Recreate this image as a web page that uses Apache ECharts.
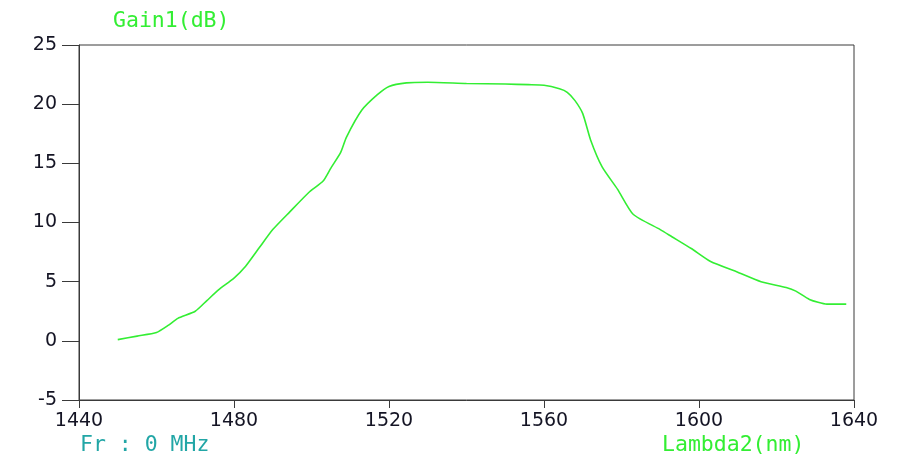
<!DOCTYPE html>
<html>
<head>
<meta charset="utf-8">
<script src="https://cdn.jsdelivr.net/npm/echarts@6/dist/echarts.min.js"></script>
<style>
  html, body { margin: 0; padding: 0; background: #ffffff; }
  #chart { width: 913px; height: 460px; }
</style>
</head>
<body>
<div id="chart"></div>
<script>
// Wavelength (nm) and gain (dB) samples of the amplifier response
var wavelength = [1450, 1455, 1460, 1463, 1465.5, 1470, 1473, 1476, 1480, 1483, 1486.6, 1490,
  1494.4, 1499.5, 1503, 1505, 1507.5, 1509, 1513, 1517, 1520, 1524.5, 1530, 1540, 1550,
  1556, 1560, 1564, 1566, 1568, 1570, 1572, 1575, 1579, 1583, 1590, 1593, 1598, 1603,
  1610, 1616, 1622.5, 1625, 1628.5, 1633, 1638];
var gain = [0.1, 0.4, 0.7, 1.3, 1.9, 2.5, 3.4, 4.3, 5.3, 6.3, 7.9, 9.4,
  10.9, 12.6, 13.5, 14.6, 15.9, 17.2, 19.5, 20.8, 21.5, 21.8, 21.85, 21.75, 21.7,
  21.65, 21.6, 21.3, 21.0, 20.3, 19.2, 17.0, 14.7, 12.8, 10.7, 9.4, 8.8, 7.8, 6.7,
  5.8, 5.0, 4.5, 4.2, 3.5, 3.1, 3.1];

var xTicks = { min: 1440, max: 1640, step: 40 };
var yTicks = { min: -5, max: 25, step: 5 };

var yTitle = 'Gain1(dB)';
var xTitle = 'Lambda2(nm)';
var freqNote = 'Fr : 0 MHz';

var points = wavelength.map(function (w, i) { return [w, gain[i]]; });

var axisColor = '#3a3a3a';
var labelColor = '#141424';
var tickFont = 'DejaVu Sans';
var monoFont = 'DejaVu Sans Mono';

var chart = echarts.init(document.getElementById('chart'), null, { renderer: 'canvas' });
chart.setOption({
  animation: false,
  backgroundColor: '#ffffff',
  grid: {
    left: 79, right: 59, top: 45, bottom: 60,
    show: true, borderColor: axisColor, borderWidth: 1, backgroundColor: 'transparent'
  },
  xAxis: {
    type: 'value',
    min: xTicks.min, max: xTicks.max, interval: xTicks.step,
    axisLine: { show: true, onZero: false, lineStyle: { color: axisColor, width: 1 } },
    axisTick: { show: true, inside: false, length: 8, lineStyle: { color: axisColor, width: 1 } },
    axisLabel: {
      color: labelColor, fontFamily: tickFont, fontSize: 19, margin: 12,
      formatter: function (v) { return String(v); }
    },
    splitLine: { show: false }
  },
  yAxis: {
    type: 'value',
    min: yTicks.min, max: yTicks.max, interval: yTicks.step,
    axisLine: { show: true, onZero: false, lineStyle: { color: axisColor, width: 1 } },
    axisTick: { show: true, inside: false, length: 17, lineStyle: { color: axisColor, width: 1 } },
    axisLabel: {
      color: labelColor, fontFamily: tickFont, fontSize: 19, margin: 22,
      formatter: function (v) { return String(v); }
    },
    splitLine: { show: false }
  },
  series: [{
    type: 'line',
    data: points,
    smooth: 0.2,
    showSymbol: false,
    lineStyle: { color: '#33ee33', width: 1.6 }
  }],
  graphic: [
    {
      type: 'text', left: 113, top: 10,
      style: { text: yTitle, fill: '#33ee33', font: '21.5px "' + monoFont + '"' }
    },
    {
      type: 'text', left: 80, top: 434,
      style: { text: freqNote, fill: '#22a6a6', font: '21.5px "' + monoFont + '"' }
    },
    {
      type: 'text', left: 662, top: 434,
      style: { text: xTitle, fill: '#33ee33', font: '21.5px "' + monoFont + '"' }
    }
  ]
});
</script>
</body>
</html>
